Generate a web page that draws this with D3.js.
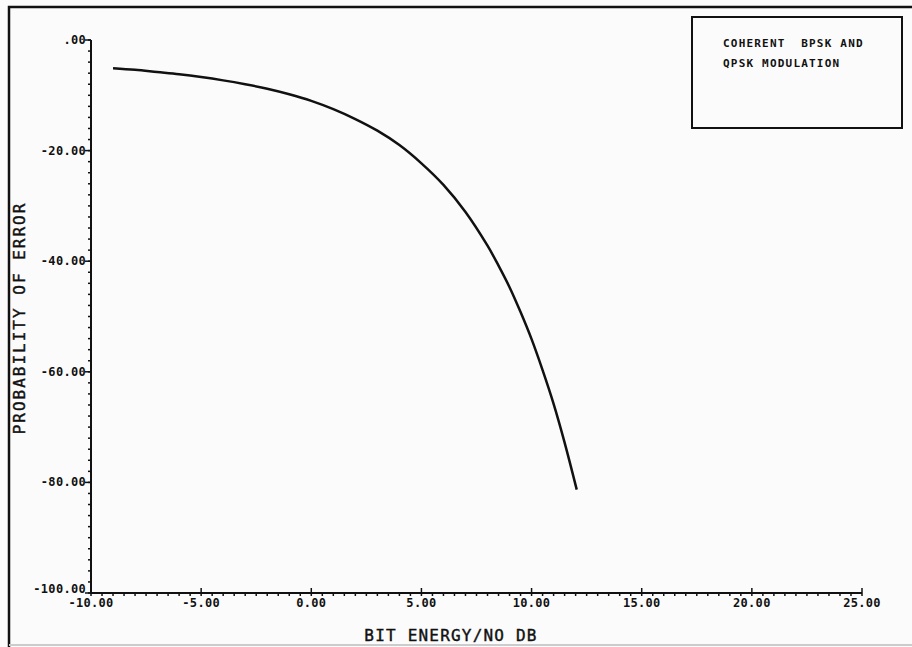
<!DOCTYPE html>
<html>
<head>
<meta charset="utf-8">
<script src="https://cdn.jsdelivr.net/npm/d3@7"></script>
<style>
  body { margin: 0; background: #fbfbfb; }
  svg { display: block; }
  text { font-family: "DejaVu Sans Mono", monospace; fill: #111; }
</style>
</head>
<body>
<svg id="chart"></svg>
<script>
// values (Eb/No in dB, probability of error in dB)
var ebno = [-9.0, -8, -7, -6, -5, -4, -3, -2, -1, 0, 1, 2, 3, 4, 5, 6, 7, 8, 8.5, 9, 9.5, 10, 10.5, 11, 11.5, 12.05]
var perr = [-5.1, -5.4, -5.8, -6.2, -6.7, -7.3, -8.0, -8.8, -9.8, -11.0, -12.5, -14.3, -16.4, -19.0, -22.3, -26.2, -31.1, -37.2, -40.8, -44.7, -49.2, -54.1, -59.7, -65.8, -72.8, -81.3]
var xTicks = [-10, -5, 0, 5, 10, 15, 20, 25]
var xTickLabels = ["-10.00", "-5.00", "0.00", "5.00", "10.00", "15.00", "20.00", "25.00"]
var yTicks = [0, -20, -40, -60, -80, -100]
var yTickLabels = [".00", "-20.00", "-40.00", "-60.00", "-80.00", "-100.00"]
var legendLines = ["COHERENT  BPSK AND", "QPSK MODULATION"]

var W = 912, H = 647
var svg = d3.select("#chart").attr("width", W).attr("height", H)

var x = d3.scaleLinear().domain([-10, 25]).range([91, 862])
var y = d3.scaleLinear().domain([-100, 0]).range([593, 40])

// outer frame (page border)
svg.append("path")
    .attr("d", "M9," + H + "V7H" + W)
    .attr("fill", "none").attr("stroke", "#111").attr("stroke-width", 2.5)
svg.append("line")
    .attr("x1", 9).attr("x2", W).attr("y1", 645).attr("y2", 645)
    .attr("stroke", "#ccc").attr("stroke-width", 2)

// x axis
var gx = svg.append("g")
gx.append("line")
    .attr("x1", x(-10)).attr("x2", x(25)).attr("y1", y(-100)).attr("y2", y(-100))
    .attr("stroke", "#111").attr("stroke-width", 2)
gx.selectAll(".minor").data(d3.range(-10, 25.01, 0.5)).enter().append("line")
    .attr("x1", function(d) { return x(d) }).attr("x2", function(d) { return x(d) })
    .attr("y1", y(-100)).attr("y2", y(-100) + 3)
    .attr("stroke", "#111").attr("stroke-width", 1.5)
gx.selectAll(".major").data(xTicks).enter().append("line")
    .attr("x1", function(d) { return x(d) }).attr("x2", function(d) { return x(d) })
    .attr("y1", y(-100)).attr("y2", y(-100) - 5)
    .attr("stroke", "#111").attr("stroke-width", 1.5)
gx.selectAll("text").data(xTicks).enter().append("text")
    .attr("x", function(d) { return x(d) })
    .attr("y", y(-100) + 14)
    .attr("text-anchor", "middle")
    .attr("font-size", 12).attr("font-weight", "bold").attr("letter-spacing", 0.3)
    .text(function(d, i) { return xTickLabels[i] })

// y axis
var gy = svg.append("g")
gy.append("line")
    .attr("x1", x(-10)).attr("x2", x(-10)).attr("y1", y(0)).attr("y2", y(-100))
    .attr("stroke", "#111").attr("stroke-width", 2)
gy.selectAll(".minor").data(d3.range(-100, 0.01, 2)).enter().append("line")
    .attr("x1", x(-10)).attr("x2", x(-10) - 3)
    .attr("y1", function(d) { return y(d) }).attr("y2", function(d) { return y(d) })
    .attr("stroke", "#111").attr("stroke-width", 1.5)
gy.selectAll(".major").data(yTicks).enter().append("line")
    .attr("x1", x(-10)).attr("x2", x(-10) - 6)
    .attr("y1", function(d) { return y(d) }).attr("y2", function(d) { return y(d) })
    .attr("stroke", "#111").attr("stroke-width", 1.5)
gy.selectAll("text").data(yTicks).enter().append("text")
    .attr("x", x(-10) - 5)
    .attr("y", function(d) { return y(d) + (d === -100 ? 0 : 4) })
    .attr("text-anchor", "end")
    .attr("font-size", 12).attr("font-weight", "bold").attr("letter-spacing", 0.3)
    .text(function(d, i) { return yTickLabels[i] })

// axis titles
svg.append("text")
    .attr("x", 451).attr("y", 641)
    .attr("text-anchor", "middle")
    .attr("font-size", 16).attr("letter-spacing", 1.2)
    .attr("stroke", "#111").attr("stroke-width", 0.4)
    .text("BIT ENERGY/NO DB")
svg.append("text")
    .attr("transform", "translate(25,318) rotate(-90)")
    .attr("text-anchor", "middle")
    .attr("font-size", 16).attr("letter-spacing", 2)
    .attr("stroke", "#111").attr("stroke-width", 0.4)
    .text("PROBABILITY OF ERROR")

// curve
var pts = ebno.map(function(d, i) { return [d, perr[i]] })
var line = d3.line()
    .curve(d3.curveCatmullRom)
    .x(function(d) { return x(d[0]) })
    .y(function(d) { return y(d[1]) })
svg.append("path")
    .datum(pts)
    .attr("d", line)
    .attr("fill", "none")
    .attr("stroke", "#111")
    .attr("stroke-width", 2.5)

// legend box
var lg = svg.append("g").attr("transform", "translate(692,17)")
lg.append("rect")
    .attr("width", 210).attr("height", 111)
    .attr("fill", "none").attr("stroke", "#111").attr("stroke-width", 2)
lg.selectAll("text").data(legendLines).enter().append("text")
    .attr("x", 31)
    .attr("y", function(d, i) { return 30 + i * 20 })
    .style("white-space", "pre")
    .attr("font-size", 11).attr("font-weight", "bold").attr("letter-spacing", 1.2)
    .text(function(d) { return d })
</script>
</body>
</html>
